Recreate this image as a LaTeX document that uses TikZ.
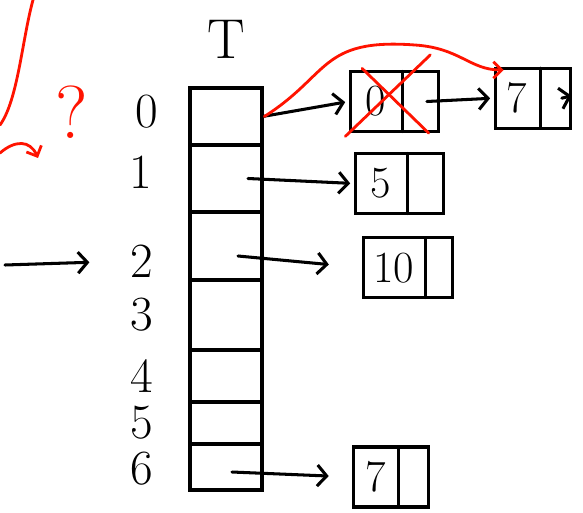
\documentclass[tikz,border=0pt]{standalone}
\usepackage{tikz}
\usetikzlibrary{positioning,shapes.multipart,arrows.meta}

\begin{document}
\begin{tikzpicture}
[x=0.03cm,y=-0.03cm,line width=2.6pt,line cap=round]
\tikzset{
	slot/.style = {draw, minimum width=2.16cm, inner sep=0, outer sep=0},
	idx/.style = {inner sep=0, font=\fontsize{42}{44}\selectfont},
	elem/.style = {draw, rectangle split, rectangle split horizontal, rectangle split parts=2,
		rectangle split empty part width=0pt, minimum height=1.8cm, inner xsep=0.45cm,
		font=\fontsize{38}{40}\selectfont},
	ptr/.style = {-{Straight Barb[length=8pt,width=18pt]}, shorten >=3pt},
	fix/.style = {red!85!orange, line width=2.4pt}
}
\useasboundingbox (0,0) rectangle (583,513);

% table T
\node(s0) [slot, minimum height=1.71cm] at (226,116.5) {};
\node(s1) [slot, minimum height=2.01cm, below=0pt of s0] {};
\node(s2) [slot, minimum height=2.04cm, below=0pt of s1] {};
\node(s3) [slot, minimum height=2.10cm, below=0pt of s2] {};
\node(s4) [slot, minimum height=1.56cm, below=0pt of s3] {};
\node(s5) [slot, minimum height=1.26cm, below=0pt of s4] {};
\node(s6) [slot, minimum height=1.38cm, below=0pt of s5] {};
\node(T) [idx, font=\fontsize{48}{50}\selectfont, above=0.85cm of s0] {T};

\node(i0) [idx, left=0.9cm of s0, yshift=0.15cm] {0};
\node(i1) [idx, left=1.1cm of s1, yshift=0.2cm] {1};
\node(i2) [idx, left=1.05cm of s2, yshift=-0.45cm] {2};
\node(i3) [idx, left=1.05cm of s3] {3};
\node(i4) [idx, left=1.05cm of s4] {4};
\node(i5) [idx, left=1.05cm of s5] {5};
\node(i6) [idx, left=1.05cm of s6, yshift=-0.05cm] {6};

% chains
\node(l0a) [elem, right=2.6cm of s0, yshift=0.45cm] {0 \nodepart{two}};
\node(l0b) [elem, right=1.6cm of l0a, yshift=0.1cm, inner xsep=0.35cm] {7 \nodepart{two}};
\node(l1) [elem, right=2.75cm of s1, yshift=-0.15cm] {5 \nodepart{two}};
\node(l2) [elem, right=3cm of s2, yshift=-0.65cm, inner xsep=0.3cm] {10 \nodepart{two}};
\node(l6) [elem, right=2.7cm of s6, yshift=-0.3cm, inner xsep=0.35cm] {7 \nodepart{two}};
\coordinate(l0c) at (575,95);

\draw [ptr] ([xshift=1.1cm]s0.center) to (l0a.west);
\draw [ptr] ([xshift=0.66cm]s1.center) to (l1.west);
\draw [ptr, shorten >=1cm] ([xshift=0.36cm,yshift=-0.3cm]s2.center) to (l2.west);
\draw [ptr, shorten >=0.7cm] ([xshift=0.18cm,yshift=-0.15cm]s6.center) to (l6.west);
\draw [ptr] ([xshift=-0.4cm]l0a.east) to (l0b.west);
\draw [ptr] ([xshift=-0.3cm]l0b.east) to (l0c);

% incoming key
\coordinate(in) at (5,265);
\draw [ptr, shorten >=1.2cm] (in) to (i2.west);

% red corrections
\draw [fix, -{Straight Barb[length=7pt,width=14pt]}] ([xshift=1.15cm]s0.center)
	.. controls (330,75) and (320,38) .. (415,45)
	.. controls (460,48) and (470,70) .. ([xshift=0.3cm,yshift=-0.1cm]l0b.north west);
\draw [fix] ([xshift=-0.1cm,yshift=-0.1cm]l0a.south west) to ([xshift=-0.3cm,yshift=0.45cm]l0a.north east);
\draw [fix] ([xshift=0.4cm,yshift=0.05cm]l0a.north west) to ([xshift=-0.35cm]l0a.south east);

\coordinate(r1) at (33,0);
\coordinate(r2) at (0,125);
\draw [fix] (r1) .. controls (22,40) and (18,100) .. (r2);
\coordinate(r3) at (0,153);
\coordinate(r4) at (38,158);
\draw [fix, -{Straight Barb[length=7pt,width=14pt]}] (r3) .. controls (15,140) and (30,140) .. (r4);
\node(q) [idx, font=\fontsize{64}{66}\selectfont, text=red!85!orange] at (72,112) {?};

\end{tikzpicture}
\end{document}
